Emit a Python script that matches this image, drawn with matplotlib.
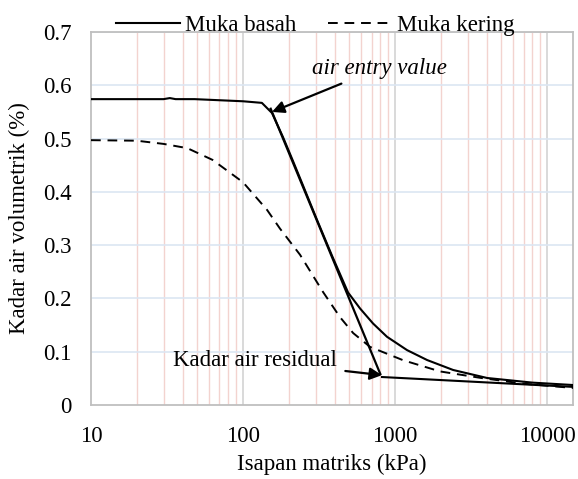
import matplotlib
matplotlib.use("Agg")
import matplotlib.pyplot as plt
from matplotlib.ticker import FixedLocator, NullFormatter

plt.rcParams['font.family'] = ['Liberation Serif', 'DejaVu Serif']

# Muka basah (wetting) curve
basah_x = [10, 30, 33, 36, 48, 100, 133, 155, 183, 213, 248, 307, 385, 491, 589,
           716, 885, 1199, 1624, 2410, 4030, 8000, 14800]
basah_y = [0.574, 0.574, 0.576, 0.574, 0.574, 0.570, 0.567, 0.548, 0.503, 0.458,
           0.412, 0.347, 0.280, 0.211, 0.181, 0.153, 0.128, 0.103, 0.0844, 0.0657,
           0.0507, 0.042, 0.0375]

# Muka kering (drying) curve
kering_x = [10, 20, 30, 43, 63, 100, 144, 175, 237, 336, 434, 530, 685, 1130,
            1977, 3630, 7000, 14800]
kering_y = [0.497, 0.496, 0.490, 0.482, 0.460, 0.418, 0.366, 0.331, 0.282, 0.212,
            0.165, 0.135, 0.109, 0.084, 0.063, 0.051, 0.040, 0.032]

# construction (tangent) lines
tan1_x = [152, 800]
tan1_y = [0.556, 0.058]
tan2_x = [820, 14800]
tan2_y = [0.0525, 0.034]

xticks = [10, 100, 1000, 10000]
xtick_labels = ['10', '100', '1000', '10000']
yticks = [0, 0.1, 0.2, 0.3, 0.4, 0.5, 0.6, 0.7]
ytick_labels = ['0', '0.1', '0.2', '0.3', '0.4', '0.5', '0.6', '0.7']

FS = 16.5

fig = plt.figure(figsize=(5.78, 4.79), dpi=100)
ax = fig.add_axes([91/578, 1-405/479, (573-91)/578, (405-32)/479])

ax.set_xscale('log')
ax.set_xlim(10, 14800)
ax.set_ylim(0, 0.7)

# gridlines
minor = [m * d for d in (10, 100, 1000) for m in range(2, 10)]
for v in minor:
    ax.axvline(v, color='#f3d3cf', lw=1.0, zorder=0)
for v in xticks[1:]:
    ax.axvline(v, color='#d3d3d3', lw=1.2, zorder=0)
for v in yticks[1:]:
    ax.axhline(v, color='#dce6f2', lw=1.2, zorder=0)

ax.plot(basah_x, basah_y, color='black', lw=1.5, label='Muka basah', zorder=3)
ax.plot(kering_x, kering_y, color='black', lw=1.4, ls=(0, (5, 3.5)),
        label='Muka kering', zorder=3)
ax.plot(tan1_x, tan1_y, color='black', lw=1.6, zorder=3)
ax.plot(tan2_x, tan2_y, color='black', lw=1.5, zorder=3)

ax.xaxis.set_major_locator(FixedLocator(xticks))
ax.set_xticklabels(xtick_labels)
ax.xaxis.set_minor_locator(FixedLocator([]))
ax.xaxis.set_minor_formatter(NullFormatter())
ax.set_yticks(yticks)
ax.set_yticklabels(ytick_labels)
ax.tick_params(axis='both', length=0, labelsize=FS)
ax.tick_params(axis='x', pad=15)
ax.tick_params(axis='y', pad=14)

for s in ax.spines.values():
    s.set_color('#bfbfbf')
    s.set_linewidth(1.3)

ax.set_xlabel('Isapan matriks (kPa)', fontsize=FS, labelpad=5)
ax.set_ylabel('Kadar air volumetrik (%)', fontsize=FS, labelpad=9)

ax.annotate('air entry value', xy=(155, 0.55), xytext=(785, 0.632),
            fontsize=FS, style='italic', ha='center', va='center',
            arrowprops=dict(arrowstyle='-|>', color='black', lw=1.6,
                            mutation_scale=18, shrinkA=4, shrinkB=0))
ax.annotate('Kadar air residual', xy=(820, 0.056), xytext=(120, 0.083),
            fontsize=FS, ha='center', va='center',
            arrowprops=dict(arrowstyle='-|>', color='black', lw=1.6,
                            mutation_scale=18, shrinkA=4, shrinkB=0))

ax.legend(loc='lower center', bbox_to_anchor=(0.465, 0.99), ncol=2, frameon=False,
          fontsize=FS, handlelength=2.8, handletextpad=0.2, columnspacing=1.4,
          borderaxespad=0, borderpad=0)

fig.savefig('out.png', dpi=100)
